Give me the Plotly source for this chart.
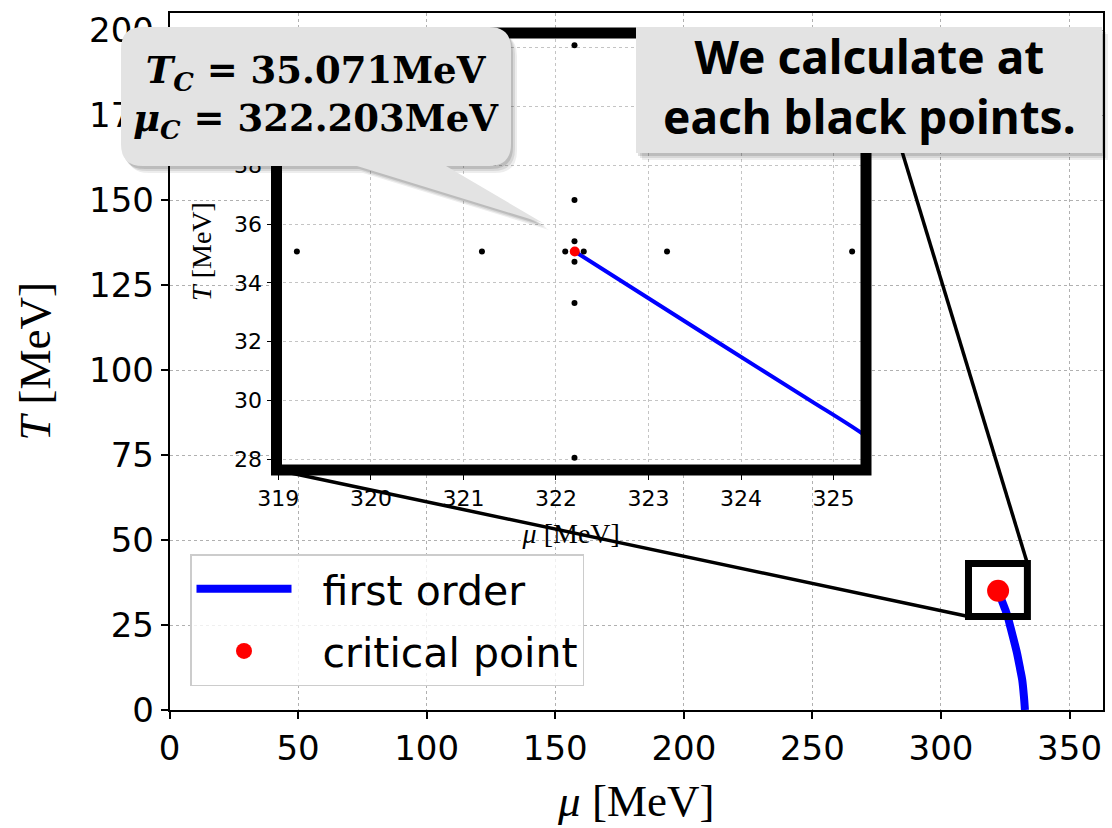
import plotly.graph_objects as go

# ---------------- data ----------------
CRIT_MU = 322.203   # MeV
CRIT_T = 35.071     # MeV

# first-order phase-transition line (mu, T)
FO_MU = [322.203, 323.74, 324.75, 325.30, 326.10, 327.00, 328.50, 329.60, 330.80, 331.60, 332.25, 332.65]
FO_T = [35.071, 32.00, 30.00, 28.90, 27.00, 24.40, 20.00, 16.60, 12.00, 8.80, 4.00, 0.00]

# calculation points shown in the inset
CALC_MU = [319.2, 321.2, 322.1, 322.3, 323.2, 325.2, 322.2, 322.2, 322.2, 322.2, 322.2, 322.2]
CALC_T = [35.07, 35.07, 35.07, 35.07, 35.07, 35.07, 42.08, 36.82, 35.42, 34.72, 33.32, 28.06]

# zoom box drawn on the main axes (mu range, T range)
ZOOM_MU = [310.7, 333.6]
ZOOM_T = [27.5, 43.1]

MAIN_XRANGE = [0, 363]
MAIN_YRANGE = [0, 205]
INSET_XRANGE = [318.98, 325.35]
INSET_YRANGE = [27.64, 42.5]

MAIN_XTICKS = [0, 50, 100, 150, 200, 250, 300, 350]
MAIN_YTICKS = [0, 25, 50, 75, 100, 125, 150, 175, 200]
INSET_XTICKS = [319, 320, 321, 322, 323, 324, 325]
INSET_YTICKS = [28, 30, 32, 34, 36, 38, 40, 42]

# ---------------- geometry ----------------
W, H = 1112, 828


def pxx(x):
    return x / W


def pxy(y):
    return 1 - y / H


MAIN_XDOM = [pxx(169.5), pxx(1103)]
MAIN_YDOM = [pxy(710), pxy(13)]
INSET_XDOM = [pxx(276.5), pxx(866)]
INSET_YDOM = [pxy(470), pxy(33)]


def main_to_paper(mu, t):
    xp = MAIN_XDOM[0] + (mu - MAIN_XRANGE[0]) / (MAIN_XRANGE[1] - MAIN_XRANGE[0]) * (MAIN_XDOM[1] - MAIN_XDOM[0])
    yp = MAIN_YDOM[0] + (t - MAIN_YRANGE[0]) / (MAIN_YRANGE[1] - MAIN_YRANGE[0]) * (MAIN_YDOM[1] - MAIN_YDOM[0])
    return xp, yp


fig = go.Figure()

NB = "\u00a0\u00a0"

# main axes
fig.add_trace(go.Scatter(x=FO_MU, y=FO_T, mode="lines", name=NB + "first order",
                         line=dict(color="#0000ff", width=8, shape="spline", smoothing=0.8),
                         legendgroup="a", xaxis="x", yaxis="y"))
fig.add_trace(go.Scatter(x=[CRIT_MU], y=[CRIT_T], mode="markers", name=NB + "critical point",
                         marker=dict(color="#ff0000", size=22), legendgroup="b",
                         xaxis="x", yaxis="y"))

# inset axes
fig.add_trace(go.Scatter(x=FO_MU, y=FO_T, mode="lines", showlegend=False,
                         line=dict(color="#0000ff", width=4, shape="spline", smoothing=0.8),
                         xaxis="x2", yaxis="y2"))
fig.add_trace(go.Scatter(x=CALC_MU, y=CALC_T, mode="markers", showlegend=False,
                         marker=dict(color="black", size=6), xaxis="x2", yaxis="y2"))
fig.add_trace(go.Scatter(x=[CRIT_MU], y=[CRIT_T], mode="markers", showlegend=False,
                         marker=dict(color="#ff0000", size=10), xaxis="x2", yaxis="y2"))

GRID_MAIN = dict(showgrid=True, gridcolor="#b0b0b0", griddash="dot", gridwidth=1.3)
GRID_INSET = dict(showgrid=True, gridcolor="#c4c4c4", griddash="dot", gridwidth=1)

fig.update_layout(
    width=W, height=H,
    margin=dict(l=0, r=0, t=0, b=0),
    paper_bgcolor="white", plot_bgcolor="white",
    showlegend=True,
    xaxis=dict(domain=MAIN_XDOM, range=MAIN_XRANGE, anchor="y",
               tickvals=MAIN_XTICKS, ticks="outside", ticklen=7, tickwidth=1.5, tickcolor="black",
               showline=True, mirror=True, linecolor="black", linewidth=1.5,
               zeroline=False, automargin=False,
               tickfont=dict(family="DejaVu Sans", size=34, color="black"),
               title=dict(text="<i>μ</i> [MeV]", standoff=18,
                          font=dict(family="Liberation Serif", size=45, color="black")),
               **GRID_MAIN),
    yaxis=dict(domain=MAIN_YDOM, range=MAIN_YRANGE, anchor="x",
               tickvals=MAIN_YTICKS, ticks="outside", ticklen=7, tickwidth=1.5, tickcolor="black",
               showline=True, mirror=True, linecolor="black", linewidth=1.5,
               zeroline=False, automargin=False,
               tickfont=dict(family="DejaVu Sans", size=34, color="black"),
               title=dict(text="<i>T</i> [MeV]", standoff=24,
                          font=dict(family="Liberation Serif", size=45, color="black")),
               **GRID_MAIN),
    xaxis2=dict(domain=INSET_XDOM, range=INSET_XRANGE, anchor="y2",
                tickvals=INSET_XTICKS, ticks="outside", ticklen=9, tickwidth=1.2, tickcolor="black",
                showline=False, zeroline=False, automargin=False,
                tickfont=dict(family="DejaVu Sans", size=22, color="black"),
                title=dict(text="<i>μ</i> [MeV]", standoff=12,
                           font=dict(family="Liberation Serif", size=28, color="black")),
                **GRID_INSET),
    yaxis2=dict(domain=INSET_YDOM, range=INSET_YRANGE, anchor="x2",
                tickvals=INSET_YTICKS, ticks="outside", ticklen=9, tickwidth=1.2, tickcolor="black",
                showline=False, zeroline=False, automargin=False,
                tickfont=dict(family="DejaVu Sans", size=22, color="black"),
                title=dict(text="<i>T</i> [MeV]", standoff=14,
                           font=dict(family="Liberation Serif", size=28, color="black")),
                **GRID_INSET),
    legend=dict(x=pxx(190), y=pxy(554), xanchor="left", yanchor="top",
                bgcolor="rgba(255,255,255,0.8)", bordercolor="#cccccc", borderwidth=1.5,
                font=dict(family="DejaVu Sans", size=41, color="black"),
                tracegroupgap=6, itemwidth=95),
)

shapes = []

# inset frame (thick black spines)
shapes.append(dict(type="rect", xref="x2 domain", yref="y2 domain", x0=0, x1=1, y0=0, y1=1,
                   line=dict(color="black", width=11), layer="above"))

# zoom box on main axes
shapes.append(dict(type="rect", xref="x", yref="y", x0=ZOOM_MU[0], x1=ZOOM_MU[1],
                   y0=ZOOM_T[0], y1=ZOOM_T[1], line=dict(color="black", width=7), layer="above"))

# connector lines: inset corners -> zoom box corners
bl = main_to_paper(ZOOM_MU[0], ZOOM_T[0])
tr = main_to_paper(ZOOM_MU[1], ZOOM_T[1])
shapes.append(dict(type="line", xref="paper", yref="paper", x0=INSET_XDOM[0], y0=INSET_YDOM[0],
                   x1=bl[0], y1=bl[1], line=dict(color="black", width=3.5), layer="above"))
shapes.append(dict(type="line", xref="paper", yref="paper", x0=INSET_XDOM[1], y0=INSET_YDOM[1],
                   x1=tr[0], y1=tr[1], line=dict(color="black", width=3.5), layer="above"))


def bubble_path(l, t, r, b, rad, tail, dx=0, dy=0):
    def P(x, y):
        return f"{pxx(x + dx):.5f},{pxy(y + dy):.5f}"
    (ta, tb, tip) = tail
    d = (f"M {P(l + rad, t)} L {P(r - rad, t)} Q {P(r, t)} {P(r, t + rad)} "
         f"L {P(r, b - rad)} Q {P(r, b)} {P(r - rad, b)} "
         f"L {P(tb, b)} L {P(tip[0], tip[1])} L {P(ta, b)} "
         f"L {P(l + rad, b)} Q {P(l, b)} {P(l, b - rad)} "
         f"L {P(l, t + rad)} Q {P(l, t)} {P(l + rad, t)} Z")
    return d


def rect_path(l, t, r, b, dx=0, dy=0):
    def P(x, y):
        return f"{pxx(x + dx):.5f},{pxy(y + dy):.5f}"
    return f"M {P(l, t)} L {P(r, t)} L {P(r, b)} L {P(l, b)} Z"


CALLOUT_FILL = "#e3e3e3"
tail = (357, 446, (543, 223))
for (dx, dy, a) in [(6, 7, 0.07), (4, 5, 0.09), (2, 3, 0.12)]:
    shapes.append(dict(type="path", xref="paper", yref="paper",
                       path=bubble_path(121, 27, 511, 166, 22, tail, dx, dy),
                       fillcolor=f"rgba(0,0,0,{a})", line=dict(width=0), layer="above"))
shapes.append(dict(type="path", xref="paper", yref="paper",
                   path=bubble_path(121, 27, 511, 166, 22, tail),
                   fillcolor=CALLOUT_FILL, line=dict(width=0), layer="above"))

for (dx, dy, a) in [(6, 7, 0.07), (4, 5, 0.09), (2, 3, 0.12)]:
    shapes.append(dict(type="path", xref="paper", yref="paper",
                       path=rect_path(636, 27, 1102, 153, dx, dy),
                       fillcolor=f"rgba(0,0,0,{a})", line=dict(width=0), layer="above"))
shapes.append(dict(type="path", xref="paper", yref="paper",
                   path=rect_path(636, 27, 1102, 153),
                   fillcolor=CALLOUT_FILL, line=dict(width=0), layer="above"))

fig.update_layout(shapes=shapes)

fig.add_annotation(xref="paper", yref="paper", x=pxx(316), y=pxy(97), xanchor="center", yanchor="middle",
                   showarrow=False, align="center",
                   text=(f"<b><i>T</i><sub><i>C</i></sub> = {CRIT_T:.3f}MeV</b><br>"
                         f"<b><i>μ</i><sub><i>C</i></sub> = {CRIT_MU:.3f}MeV</b>"),
                   font=dict(family="DejaVu Serif", size=37, color="black"))
fig.add_annotation(xref="paper", yref="paper", x=pxx(869), y=pxy(86), xanchor="center", yanchor="middle",
                   showarrow=False, align="center",
                   text="<b>We calculate at</b><br><b>each black points.</b>",
                   font=dict(family="Noto Sans", size=46, color="black"))

fig.write_html("out.html")
